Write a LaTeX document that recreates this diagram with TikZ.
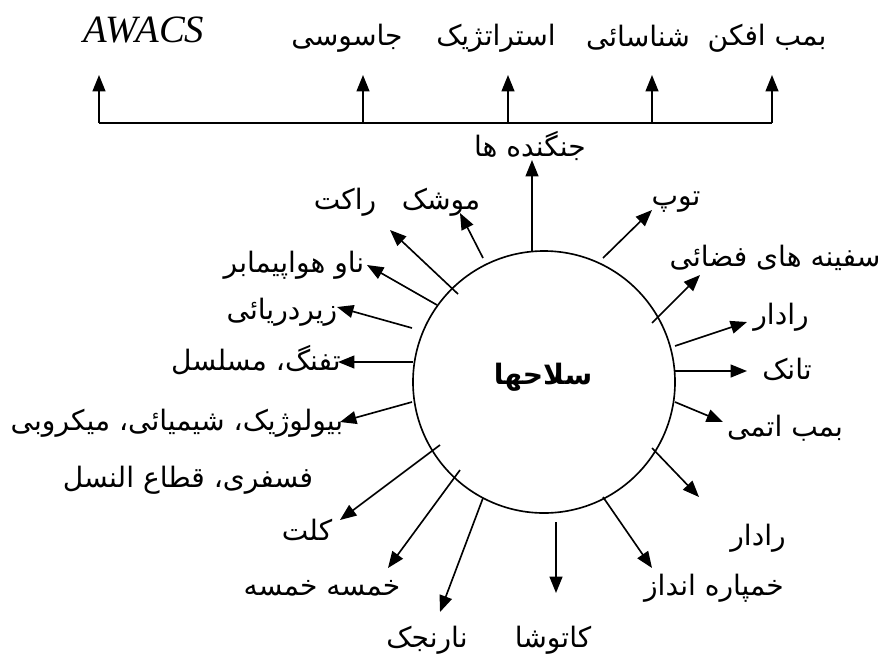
\documentclass[tikz,border=0pt]{standalone}
\usepackage{fontspec}
\setmainfont{Liberation Serif}
\newfontfamily\fafont[Script=Arabic]{DejaVu Sans}
\TeXXeTstate=1
\usetikzlibrary{arrows.meta}
\tikzset{
  lbl/.style={inner sep=0pt, font=\fafont\fontsize{24}{28}\selectfont},
  conn/.style={line width=1.4pt, -{Triangle[length=14pt,width=11pt]}},
  plain/.style={line width=1.4pt},
}
\begin{document}
\begin{tikzpicture}[x=0.03cm,y=-0.03cm]
\useasboundingbox (0,0) rectangle (880,658);
% centre
\node[draw, circle, line width=1.4pt, minimum size=7.86cm, inner sep=0pt] (c) at (544,382) {};
\node[lbl, font=\fafont\bfseries\fontsize{24}{28}\selectfont] (core) at (543,377) {\beginR سلاحها\endR};
% top labels
\node[inner sep=0pt, font=\itshape\fontsize{33}{36}\selectfont] (awacs) at (144,30) {AWACS};
\node[lbl] (spy) at (347,38) {\beginR جاسوسی\endR};
\node[lbl] (strat) at (496,38) {\beginR استراتژیک\endR};
\node[lbl] (recon) at (638,38) {\beginR شناسائی\endR};
\node[lbl] (bomber) at (767,38) {\beginR بمب افکن\endR};
\node[lbl] (fighter) at (530,146) {\beginR جنگنده ها\endR};
% bar
\coordinate (b1) at (99,123);
\coordinate (b2) at (363,123);
\coordinate (b3) at (508,123);
\coordinate (b4) at (652,123);
\coordinate (b5) at (772,123);
\coordinate (t1) at (99,75);
\coordinate (t2) at (363,75);
\coordinate (t3) at (508,75);
\coordinate (t4) at (652,75);
\coordinate (t5) at (772,75);
\draw[plain] (b1) -- (b5);
\foreach \i in {1,...,5} \draw[conn] (b\i) -- (t\i);
\coordinate (fs) at (532,251);
\coordinate (ft) at (532,160);
\draw[conn] (fs) -- (ft);
% side labels
\node[lbl] (rocket) at (345,202) {\beginR راکت\endR};
\node[lbl] (missile) at (441,202) {\beginR موشک\endR};
\node[lbl] (cannon) at (676,202) {\beginR توپ\endR};
\node[lbl] (space) at (775,258) {\beginR سفینه های فضائی\endR};
\node[lbl] (radar1) at (781,317) {\beginR رادار\endR};
\node[lbl] (tank) at (787,369) {\beginR تانک\endR};
\node[lbl] (nuke) at (785,428) {\beginR بمب اتمی\endR};
\node[lbl] (radar2) at (758,538) {\beginR رادار\endR};
\node[lbl] (mortar) at (714,588) {\beginR خمپاره انداز\endR};
\node[lbl] (katyusha) at (553,640) {\beginR کاتوشا\endR};
\node[lbl] (grenade) at (427,640) {\beginR نارنجک\endR};
\node[lbl] (khamseh) at (322,588) {\beginR خمسه خمسه\endR};
\node[lbl] (colt) at (307,530) {\beginR کلت\endR};
\node[lbl] (bio2) at (188,480) {\beginR فسفری، قطاع النسل\endR};
\node[lbl] (bio) at (177,423) {\beginR بیولوژیک، شیمیائی، میکروبی\endR};
\node[lbl] (rifle) at (256,360) {\beginR تفنگ، مسلسل\endR};
\node[lbl] (sub) at (282,312) {\beginR زیردریائی\endR};
\node[lbl] (carrier) at (294,265) {\beginR ناو هواپیمابر\endR};
% arrows
\foreach \sx/\sy/\tx/\ty [count=\k] in {
  458/294/390/230, 483/258/460/213, 603/258/652/210, 652/323/700/275,
  675/346/747/322, 675/371/747/371, 675/402/723/422, 652/448/699/497,
  603/497/652/568, 556/522/556/593, 483/498/440/612, 460/470/388/568,
  440/445/340/520, 412/402/340/422, 413/362/338/362, 412/328/337/307,
  437/305/367/265} {
  \coordinate (s\k) at (\sx,\sy);
  \coordinate (e\k) at (\tx,\ty);
  \draw[conn] (s\k) -- (e\k);
}
\end{tikzpicture}
\end{document}
